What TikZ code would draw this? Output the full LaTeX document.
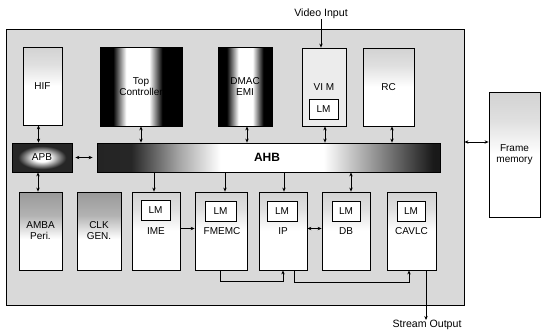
\documentclass[tikz,border=0pt]{standalone}
\usepackage{fontspec}
\setmainfont{Liberation Sans}
\usetikzlibrary{arrows.meta,calc}
\pgfdeclarehorizontalshading{ctrlshade}{100bp}{color(0bp)=(black); color(33bp)=(black); color(41bp)=(white); color(55bp)=(white); color(63bp)=(black); color(100bp)=(black)}
\pgfdeclarehorizontalshading{dmacshade}{100bp}{color(0bp)=(black); color(33bp)=(black); color(44bp)=(white); color(57bp)=(white); color(67bp)=(black); color(100bp)=(black)}
\pgfdeclarehorizontalshading{ahbshade}{100bp}{color(0bp)=(black!90); color(30bp)=(black!85); color(37bp)=(black!35); color(43bp)=(white); color(58bp)=(white); color(66bp)=(black!45); color(74bp)=(black!90); color(100bp)=(black!90)}
\pgfdeclareradialshading{apbshade}{\pgfpoint{0bp}{0bp}}{color(0bp)=(white); color(7bp)=(white); color(20bp)=(black!85); color(50bp)=(black!85)}
\pgfdeclareverticalshading{darktop}{100bp}{color(0bp)=(white); color(45bp)=(white); color(60bp)=(gray!60); color(75bp)=(gray!80); color(100bp)=(gray!80)}
\pgfdeclareverticalshading{lighttop}{100bp}{color(0bp)=(white); color(50bp)=(white); color(64bp)=(gray!25); color(75bp)=(gray!35); color(100bp)=(gray!35)}
\begin{document}
\begin{tikzpicture}[x=1pt,y=-1pt,
  font=\fontsize{10}{11}\selectfont,
  blk/.style={draw=black, line width=0.8pt, inner sep=0pt, align=center},
  lm/.style={blk, fill=white, minimum width=29pt, minimum height=20pt},
  lbl/.style={inner sep=0pt, align=center},
  ext/.style={lbl, font=\fontsize{10.6}{12}\selectfont},
  ar/.style={-{Stealth[length=4pt,width=3.4pt]}, line width=0.7pt},
  dar/.style={{Stealth[length=4pt,width=3.4pt]}-{Stealth[length=4pt,width=3.4pt]}, line width=0.7pt},
  ln/.style={line width=0.7pt}]
\useasboundingbox (0,0) rectangle (541,333);

% outer chip
\node[blk, fill=gray!30, minimum width=458pt, minimum height=276pt] (outer) at (235,167) {};

% top row
\node[blk, shading=lighttop, minimum width=39pt, minimum height=78pt] (hif) at (42.5,86) {HIF};
\node[blk, shading=ctrlshade, minimum width=82pt, minimum height=79pt] (topc) at (141,86.5) {Top\\Controller};
\node[blk, shading=dmacshade, minimum width=54pt, minimum height=79pt] (dmac) at (245,86.5) {DMAC\\EMI};
\node[blk, fill=gray!15, minimum width=44pt, minimum height=78pt] (vim) at (324,87) {};
\node[lbl] (vimlbl) at (324,87) {VI M};
\node[lm] (vimlm) at (323.5,109) {LM};
\node[blk, shading=lighttop, minimum width=51pt, minimum height=78pt] (rc) at (388.5,87) {RC};

% frame memory
\node[blk, shading=lighttop, minimum width=51pt, minimum height=125pt] (frame) at (514.5,154.5) {Frame\\memory};

% buses
\node[blk, shading=apbshade, minimum width=60pt, minimum height=29pt] (apb) at (42,157.5) {APB};
\node[blk, shading=ahbshade, minimum width=343pt, minimum height=29pt] (ahb) at (268.5,157.5) {};
\node[lbl, font=\fontsize{12}{13}\selectfont\bfseries] (ahblbl) at (267,157.5) {AHB};

% bottom row
\node[blk, shading=darktop, minimum width=43pt, minimum height=78pt] (amba) at (40.5,231) {AMBA\\Peri.};
\node[blk, shading=darktop, minimum width=44pt, minimum height=78pt] (clk) at (99,231) {CLK\\GEN.};
\node[blk, shading=lighttop, minimum width=48pt, minimum height=78pt] (ime) at (156,231) {};
\node[lm] (imelm) at (155.5,210.5) {LM};
\node[lbl] (imelbl) at (156,231.5) {IME};
\node[blk, shading=lighttop, minimum width=52pt, minimum height=78pt] (fmemc) at (221,231) {};
\node[lm, minimum width=31pt] (fmemclm) at (220.5,211) {LM};
\node[lbl] (fmemclbl) at (222,231.5) {FMEMC};
\node[blk, shading=lighttop, minimum width=48pt, minimum height=78pt] (ip) at (283,231) {};
\node[lm, minimum width=30pt] (iplm) at (282,211) {LM};
\node[lbl] (iplbl) at (283,231.5) {IP};
\node[blk, shading=lighttop, minimum width=48pt, minimum height=78pt] (db) at (346,231) {};
\node[lm, minimum width=28pt] (dblm) at (346,211) {LM};
\node[lbl] (dblbl) at (346,231.5) {DB};
\node[blk, shading=lighttop, minimum width=49pt, minimum height=78pt] (cavlc) at (411.5,231) {};
\node[lm, minimum width=28pt] (cavlclm) at (411,211) {LM};
\node[lbl] (cavlclbl) at (411.5,231.5) {CAVLC};

% external labels
\node[ext] (vidin) at (321,14) {Video Input};
\node[ext] (sout) at (427,325) {Stream Output};

% connectors top
\draw[ar] (vidin.south) -- (vidin.south |- vim.north);
\draw[dar] ([xshift=-4pt]hif.south) -- ([xshift=-4pt]hif.south |- apb.north);
\draw[dar] (topc.south) -- (topc.south |- ahb.north);
\draw[dar] ([xshift=2pt]dmac.south) -- ([xshift=2pt]dmac.south |- ahb.north);
\draw[dar] ([xshift=1pt]vim.south) -- ([xshift=1pt]vim.south |- ahb.north);
\draw[dar] ([xshift=3.5pt]rc.south) -- ([xshift=3.5pt]rc.south |- ahb.north);
\draw[dar, shorten <=3pt, shorten >=4pt] (apb.east) -- (ahb.west);
\draw[dar] ([xshift=-2.5pt]amba.north |- apb.south) -- ([xshift=-2.5pt]amba.north);

% frame memory link
\coordinate (fmL) at ([yshift=12.5pt]frame.west);
\draw[dar] (outer.east |- fmL) -- (fmL);

% AHB to modules
\draw[ar] ([xshift=-2pt]ime.north |- ahb.south) -- ([xshift=-2pt]ime.north);
\draw[ar] ([xshift=4pt]fmemc.north |- ahb.south) -- ([xshift=4pt]fmemc.north);
\draw[ar] ([xshift=1pt]ip.north |- ahb.south) -- ([xshift=1pt]ip.north);
\draw[dar] ([xshift=5pt]db.north |- ahb.south) -- ([xshift=5pt]db.north);

% module links
\draw[ar] ([yshift=2.5pt]ime.east) -- ([yshift=2.5pt]fmemc.west);
\draw[dar] ([yshift=2.5pt]ip.east) -- ([yshift=2.5pt]db.west);
\draw[ar] ([xshift=-1pt]fmemc.south) -- ++(0,11) -| (ip.south);
\draw[ar] ([xshift=11pt]ip.south) -- ++(0,12) -| ([xshift=-2.5pt]cavlc.south);
\draw[ar] ([xshift=14.5pt]cavlc.south) -- ([xshift=14.5pt]cavlc.south |- sout.north);
\end{tikzpicture}
\end{document}
